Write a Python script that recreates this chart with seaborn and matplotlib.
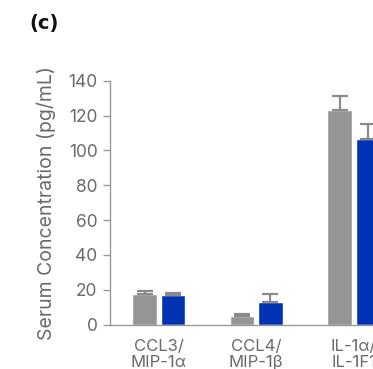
import matplotlib
matplotlib.use("Agg")
import matplotlib.pyplot as plt
import seaborn as sns
import pandas as pd
import numpy as np

categories = ["CCL3/\nMIP-1α", "CCL4/\nMIP-1β", "IL-1α/\nIL-1F1"]
groups = ["Group A", "Group B"]
values_a = [17.6, 5.0, 123.2]
values_b = [17.0, 13.0, 106.5]
err_a = [1.9, 1.3, 8.2]
err_b = [1.4, 4.6, 8.5]
yticks = [0, 20, 40, 60, 80, 100, 120, 140]

sns.set_theme(style="white")
plt.rcParams["font.family"] = ["Inter", "DejaVu Sans"]

df = pd.DataFrame({
    "cat": categories * 2,
    "grp": [groups[0]] * 3 + [groups[1]] * 3,
    "val": values_a + values_b,
})

fig = plt.figure(figsize=(3.73, 3.69), dpi=100)
ax = fig.add_axes([110 / 373, 44.3 / 369, 292.5 / 373, 244 / 369])
palette = {groups[0]: "#959595", groups[1]: "#0033b4"}
sns.barplot(data=df, x="cat", y="val", hue="grp", order=categories,
            hue_order=groups, palette=palette, width=0.58, gap=0.13,
            errorbar=None, legend=False, ax=ax, saturation=1)

# upward-only error bars
errs = err_a + err_b
vals = values_a + values_b
patches = [p for p in ax.patches][:6]
for p, v, e in zip(patches, vals, errs):
    xc = p.get_x() + p.get_width() / 2
    ax.errorbar(xc, v, yerr=[[0], [e]], fmt="none", ecolor="#8a8a8a",
                elinewidth=1.6, capsize=5.5, capthick=1.6, zorder=1)

ax.set_ylim(0, 140)
ax.set_xlim(-0.5, 2.5)
ax.set_yticks(yticks)
ax.set_ylabel("Serum Concentration (pg/mL)", fontsize=14, color="#6a6a6a", labelpad=9)
ax.set_xlabel("")
for s in ["top", "right"]:
    ax.spines[s].set_visible(False)
for s in ["left", "bottom"]:
    ax.spines[s].set_color("#999999")
    ax.spines[s].set_linewidth(1.0)
ax.tick_params(axis="y", left=True, length=5, width=1, color="#999999",
               labelsize=12.5, labelcolor="#6a6a6a", pad=4)
ax.tick_params(axis="x", bottom=False, length=0, labelsize=12, labelcolor="#6a6a6a", pad=10)
for lbl in ax.get_xticklabels():
    lbl.set_linespacing(1.15)

fig.text(29 / 373, 1 - 23 / 369, "(c)", fontsize=14, fontweight="bold",
         color="#111111", va="center", ha="left", family="DejaVu Sans")

fig.savefig("out.png", dpi=100)
